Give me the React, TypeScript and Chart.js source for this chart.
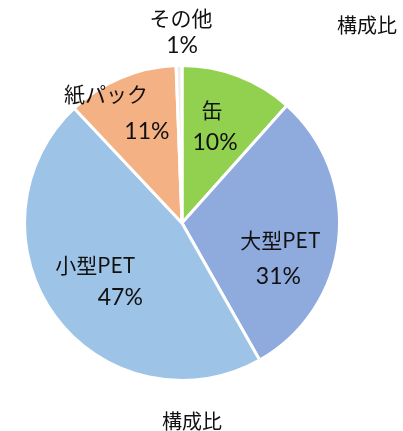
import React, { useEffect, useRef } from "react";
import { Chart, registerables } from "chart.js";

Chart.register(...registerables);

const categories = ["缶", "大型PET", "小型PET", "紙パック", "その他"];
const shares = [11.6, 30.2, 46.2, 11.4, 0.6];
const shareLabels = ["10%", "31%", "47%", "11%", "1%"];
const sliceColors = ["#92D050", "#8FAADC", "#9DC3E6", "#F4B183", "#EDEDED"];
const seriesName = "構成比";

// label line offsets (px) from the slice mid-angle point at 0.66 radius
const nameOffsets = [[-7, -16], [-5, 6], [-3, -20], [-36, -33], [1, -101]];
const valueOffsets = [[-4, 17], [-7, 42], [22, 13], [5, 4], [2, -73]];

const labelPlugin = {
  id: "sliceLabels",
  afterDatasetsDraw(chart: any) {
    const ctx = chart.ctx;
    const meta = chart.getDatasetMeta(0);
    ctx.save();
    ctx.fillStyle = "#111111";
    ctx.textAlign = "center";
    ctx.textBaseline = "middle";
    meta.data.forEach((arc: any, i: number) => {
      const p = arc.getProps(["x", "y", "startAngle", "endAngle", "outerRadius"], true);
      const mid = (p.startAngle + p.endAngle) / 2;
      const bx = p.x + Math.cos(mid) * p.outerRadius * 0.66;
      const by = p.y + Math.sin(mid) * p.outerRadius * 0.66;
      ctx.font = '21px "Noto Sans CJK JP"';
      ctx.fillText(categories[i], bx + nameOffsets[i][0], by + nameOffsets[i][1]);
      ctx.font = '23px Lato, "Noto Sans CJK JP"';
      ctx.fillText(shareLabels[i], bx + valueOffsets[i][0], by + valueOffsets[i][1]);
    });
    ctx.font = '20px "Noto Sans CJK JP"';
    ctx.fillText(seriesName, 367, 25);
    ctx.fillText(seriesName, 192, 421);
    ctx.restore();
  },
};

export default function App() {
  const ref = useRef<HTMLCanvasElement>(null);
  useEffect(() => {
    let chart: Chart | null = null;
    let cancelled = false;
    const make = () => {
      if (cancelled || !ref.current) return;
      chart = new Chart(ref.current, {
        type: "pie",
        data: {
          labels: categories,
          datasets: [
            {
              label: seriesName,
              data: shares,
              backgroundColor: sliceColors,
              borderColor: "#ffffff",
              borderWidth: 3,
            },
          ],
        },
        options: {
          responsive: false,
          animation: false,
          layout: { padding: { left: 23, right: 62, top: 64, bottom: 49 } },
          plugins: {
            legend: { display: false },
            title: { display: false },
            tooltip: { enabled: false },
          },
        },
        plugins: [labelPlugin],
      });
    };
    const fonts = (document as any).fonts;
    if (fonts && fonts.load) {
      Promise.all([
        fonts.load('21px "Noto Sans CJK JP"', "缶大型小紙パックその他構成比"),
        fonts.load("23px Lato", "0123456789%"),
      ])
        .catch(() => {})
        .then(make);
    } else make();
    return () => {
      cancelled = true;
      if (chart) chart.destroy();
    };
  }, []);
  return (
    <div style={{ position: "fixed", left: 0, top: 0, width: 403, height: 431, background: "#fff" }}>
      <canvas ref={ref} width={403} height={431} style={{ width: 403, height: 431 }} />
    </div>
  );
}
